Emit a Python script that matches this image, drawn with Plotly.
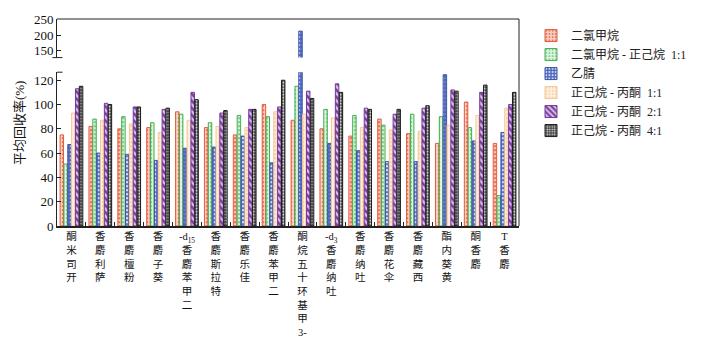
import plotly.graph_objects as go

# Analytes (x categories)
categories = ["开司米酮", "萨利麝香", "粉檀麝香", "葵子麝香", "二甲苯麝香-d15", "特拉斯麝香",
              "佳乐麝香", "二甲苯麝香", "3-甲基环十五烷酮", "吐纳麝香-d3", "吐纳麝香",
              "伞花麝香", "西藏麝香", "黄葵内酯", "麝香酮", "麝香T"]

# Mean recovery (%) for each extraction solvent
dcm = [75, 82, 80, 81, 94, 81, 75, 100, 87, 80, 74, 88, 76, 68, 102, 68]
dcm_hex = [51, 88, 90, 85, 92, 85, 91, 90, 115, 96, 91, 83, 92, 90, 81, 25]
acn = [67, 60, 59, 54, 64, 65, 74, 52, 213, 68, 62, 53, 53, 124.5, 70, 77]
hex_ace_11 = [93, 87, 84, 77, 87, 82, 81, 94, 92, 89, 81, 79, 78, 83, 91, 97]
hex_ace_21 = [113, 101, 98, 96, 110, 93, 96, 98, 111, 117, 97, 92, 97, 112, 110, 100]
hex_ace_41 = [115, 100, 98, 97, 104, 95, 96, 120, 105, 110, 96, 96, 99, 111, 116, 110]

series_names = ["二氯甲烷", "二氯甲烷 - 正己烷  1:1", "乙腈",
                "正己烷 - 丙酮  1:1", "正己烷 - 丙酮  2:1", "正己烷 - 丙酮  4:1"]
series_values = [dcm, dcm_hex, acn, hex_ace_11, hex_ace_21, hex_ace_41]

# (outline, fill, pattern shape, pattern colour, pattern size, solidity)
styles = [
    ("#E25A3C", "#FAD3C6", ".", "#E8765B", 4, 0.35),
    ("#3FAE4C", "#E2F4E2", ".", "#82CC8E", 4, 0.3),
    ("#3A52AA", "#4F67BC", ".", "#D5DCF4", 4, 0.35),
    ("#F5C694", "#FDF0E0", ".", "#F7D3AC", 4, 0.3),
    ("#74389A", "#D7BFE6", "\\", "#7A3B9E", 5, 0.5),
    ("#1A1A1A", "#3A3A3A", ".", "#E6E6E6", 3, 0.4),
]

# axis break: lower panel 0..LOW_MAX, upper panel UP_MIN..UP_MAX
LOW_MAX = 126.6
UP_MIN, UP_MAX = 126, 253

# Special tokens that stay together in the stacked labels
multi = {"-d15": "-d<sub>15</sub>", "-d3": "-d<sub>3</sub>", "3-": "3-"}


def tokens(name):
    out = []
    i = 0
    while i < len(name):
        for k in ("-d15", "-d3", "3-"):
            if name.startswith(k, i):
                out.append(multi[k])
                i += len(k)
                break
        else:
            out.append(name[i])
            i += 1
    return out


def stacked(name):
    # text runs upward from the bottom, each glyph kept upright
    return "<br>".join(reversed(tokens(name)))


xlabels = [stacked(c) for c in categories]

FONT = "Liberation Serif, Noto Sans CJK SC, serif"

fig = go.Figure()
for name, vals, st in zip(series_names, series_values, styles):
    line_c, fill_c, shape, fg, size, sol = st
    marker = dict(color=fill_c, line=dict(color=line_c, width=1),
                  pattern=dict(shape=shape, fgcolor=fg, bgcolor=fill_c,
                               size=size, solidity=sol, fillmode="replace"))
    fig.add_trace(go.Bar(x=xlabels, y=vals, name=name, marker=marker,
                         legendgroup=name, xaxis="x", yaxis="y"))
    # only values that reach past the break continue in the upper panel
    upper = [v if v > UP_MIN else None for v in vals]
    fig.add_trace(go.Bar(x=xlabels, y=upper, name=name, marker=marker,
                         legendgroup=name, showlegend=False, xaxis="x", yaxis="y2"))

low_top = 0.743
up_bot = 0.8136
axis_common = dict(showline=True, linecolor="#222", linewidth=1, ticks="inside",
                   ticklen=4, tickcolor="#222", showgrid=False, zeroline=False,
                   tickfont=dict(family=FONT, size=13, color="#111"))

fig.update_layout(
    width=704, height=350,
    margin=dict(l=57, r=166, t=17, b=120),
    paper_bgcolor="white", plot_bgcolor="white",
    barmode="group", bargap=0.2, bargroupgap=0.1,
    font=dict(family=FONT, size=13, color="#111"),
    xaxis=dict(type="category", anchor="y", showline=True, linecolor="#222",
               linewidth=1.5, ticks="inside", tickson="boundaries", ticklen=4,
               tickcolor="#222", showgrid=False,
               tickfont=dict(family=FONT, size=10.5, color="#111"), tickangle=0),
    yaxis=dict(domain=[0, low_top], range=[0, LOW_MAX], tickvals=[0, 20, 40, 60, 80, 100, 120],
               anchor="x", **axis_common),
    yaxis2=dict(domain=[up_bot, 1], range=[UP_MIN, UP_MAX], tickvals=[150, 200, 250],
                anchor="x", **axis_common),
    legend=dict(x=1.026, y=0.99, xanchor="left", yanchor="top",
                font=dict(family=FONT, size=12, color="#222"),
                bgcolor="rgba(0,0,0,0)", itemwidth=30, tracegroupgap=0),
    showlegend=True,
)

# frame: top edge, right edge and axis-break ticks
fig.add_shape(type="line", xref="paper", yref="paper", x0=0, x1=1, y0=1, y1=1,
              line=dict(color="#222", width=1))
fig.add_shape(type="line", xref="paper", yref="paper", x0=1, x1=1, y0=0, y1=1,
              line=dict(color="#222", width=1))
fig.add_shape(type="line", xref="paper", yref="paper", x0=-0.01, x1=0.012,
              y0=up_bot, y1=up_bot, line=dict(color="#222", width=1))
fig.add_shape(type="line", xref="paper", yref="paper", x0=0, x1=0.012,
              y0=low_top, y1=low_top, line=dict(color="#222", width=1))

fig.add_annotation(text="平均回收率(%)", xref="paper", yref="paper", x=-0.081, y=0.5,
                   textangle=-90, showarrow=False, xanchor="center", yanchor="middle",
                   font=dict(family=FONT, size=13, color="#111"))

fig.write_html("out.html")
